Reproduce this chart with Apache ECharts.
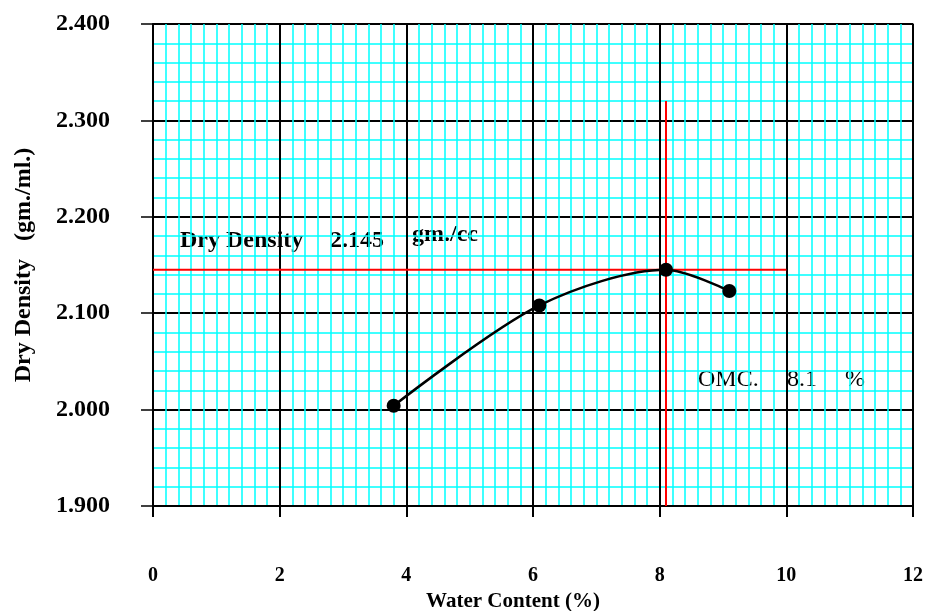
<!DOCTYPE html>
<html>
<head>
<meta charset="utf-8">
<script src="https://cdn.jsdelivr.net/npm/echarts@6/dist/echarts.min.js"></script>
<style>
html,body{margin:0;padding:0;background:#fff;}
#c{width:930px;height:611px;}
</style>
</head>
<body>
<div id="c"></div>
<script>
// Data
var waterContent = [3.8, 6.1, 8.1, 9.1];
var dryDensity = [2.004, 2.108, 2.145, 2.123];
var mddLineX = [0, 10];
var mddLineY = [2.145, 2.145];
var omcLineX = [8.1, 8.1];
var omcLineY = [1.9, 2.32];
var xTicks = [0, 2, 4, 6, 8, 10, 12];
var yTicks = [1.9, 2.0, 2.1, 2.2, 2.3, 2.4];

function pairs(xs, ys){ return xs.map(function(x,i){ return [x, ys[i]]; }); }

var serif = "'Liberation Serif', 'Times New Roman', serif";
var chart = echarts.init(document.getElementById('c'));
chart.setOption({
  animation: false,
  backgroundColor: '#fff',
  grid: { left: 153, right: 17, top: 24, bottom: 105, containLabel: false, outerBoundsMode: 'none',
    show: true, borderColor: '#999', borderWidth: 2, backgroundColor: '#fff' },
  xAxis: {
    type: 'value', min: xTicks[0], max: xTicks[xTicks.length-1], interval: 2,
    name: 'Water Content (%)', nameLocation: 'middle', nameGap: 84,
    nameTextStyle: { fontFamily: serif, fontWeight: 'bold', fontSize: 21, color: '#000', padding: [0, 40, 0, 0] },
    axisLine: { show: true, onZero: false, lineStyle: { color: '#000', width: 2 } },
    axisTick: { show: true, length: 11, lineStyle: { color: '#000', width: 2 } },
    axisLabel: { margin: 60, fontFamily: serif, fontWeight: 'bold', fontSize: 20, color: '#000' },
    splitLine: { show: true, lineStyle: { color: '#000', width: 2 } },
    minorTick: { show: false, splitNumber: 10 },
    minorSplitLine: { show: true, lineStyle: { color: '#00FFFF', width: 1.5 } }
  },
  yAxis: {
    type: 'value', min: yTicks[0], max: yTicks[yTicks.length-1], interval: 0.1,
    name: 'Dry Density   (gm./ml.)', nameLocation: 'middle', nameGap: 117,
    nameTextStyle: { fontFamily: serif, fontWeight: 'bold', fontSize: 24, color: '#000' },
    axisLine: { show: true, lineStyle: { color: '#000', width: 2 } },
    axisTick: { show: true, length: 12, lineStyle: { color: '#000', width: 1.5 } },
    axisLabel: { margin: 43, fontFamily: serif, fontWeight: 'bold', fontSize: 24, color: '#000',
      formatter: function(v){ return v.toFixed(3); } },
    splitLine: { show: true, lineStyle: { color: '#000', width: 2 } },
    minorTick: { show: false, splitNumber: 5 },
    minorSplitLine: { show: true, lineStyle: { color: '#00FFFF', width: 1.5 } }
  },
  series: [
    { type: 'line', data: pairs(mddLineX, mddLineY), symbol: 'none', lineStyle: { color: '#FF0000', width: 2 }, z: 3 },
    { type: 'line', data: pairs(omcLineX, omcLineY), symbol: 'none', lineStyle: { color: '#FF0000', width: 2 }, z: 3 },
    { type: 'line', data: pairs(waterContent, dryDensity), smooth: 0.3,
      symbol: 'circle', symbolSize: 14, itemStyle: { color: '#000' },
      lineStyle: { color: '#000', width: 2.5 }, z: 5 }
  ],
  graphic: [
    { type: 'text', left: 180, top: 229, style: { text: 'Dry Density', font: 'bold 24px ' + serif, fill: '#000' } },
    { type: 'text', left: 330, top: 229, style: { text: '2.145', font: 'bold 24px ' + serif, fill: '#000' } },
    { type: 'text', left: 412, top: 223, style: { text: 'gm./cc', font: 'bold 24px ' + serif, fill: '#000' } },
    { type: 'text', left: 698, top: 368, style: { text: 'OMC.', font: '24px ' + serif, fill: '#000' } },
    { type: 'text', left: 787, top: 368, style: { text: '8.1', font: '24px ' + serif, fill: '#000' } },
    { type: 'text', left: 845, top: 368, style: { text: '%', font: '24px ' + serif, fill: '#000' } }
  ]
});
</script>
</body>
</html>
